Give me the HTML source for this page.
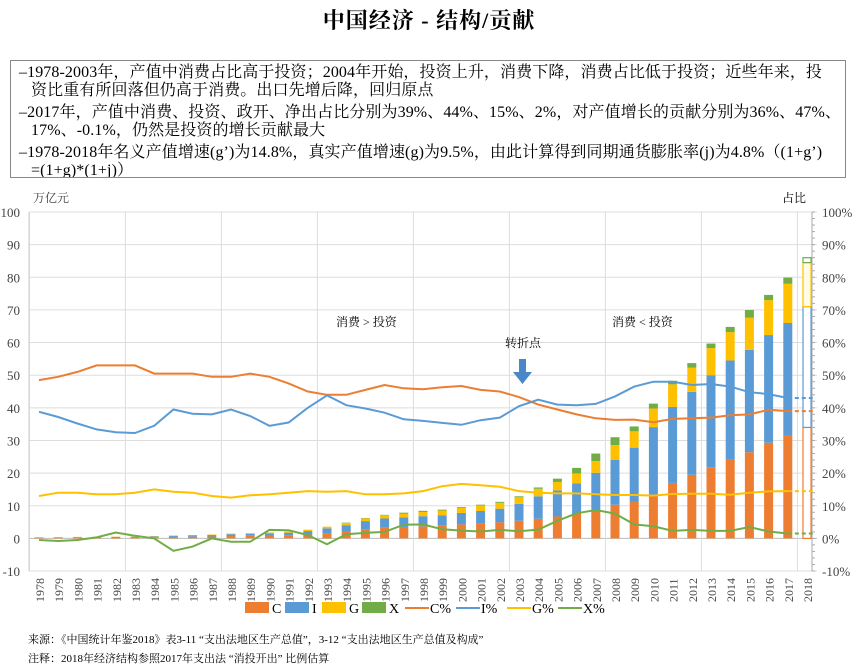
<!DOCTYPE html>
<html><head><meta charset="utf-8"><style>
body{margin:0;background:#fff;width:858px;height:670px;overflow:hidden;font-family:"Liberation Serif","Noto Serif CJK SC",serif;}
#t{position:absolute;top:4px;left:0;width:858px;text-align:center;font-size:22px;font-weight:bold;letter-spacing:1px}
#box{position:absolute;left:10px;top:60px;width:836px;height:118px;border:1px solid #888;box-sizing:border-box;padding:3px 6px 0 8px;font-size:16px;line-height:18px;letter-spacing:0.1px;white-space:nowrap;overflow:hidden}
#box p{margin:0 0 4px 0;padding-left:12px;text-indent:-12px}
svg{position:absolute;left:0;top:0}
</style></head><body>
<div id="t">中国经济 - 结构/贡献</div>
<div id="box">
<p>–1978-2003年，产值中消费占比高于投资；2004年开始，投资上升，消费下降，消费占比低于投资；近些年来，投<br>资比重有所回落但仍高于消费。出口先增后降，回归原点</p>
<p>–2017年，产值中消费、投资、政开、净出占比分别为39%、44%、15%、2%，对产值增长的贡献分别为36%、47%、<br>17%、-0.1%，仍然是投资的增长贡献最大</p>
<p>–1978-2018年名义产值增速(g’)为14.8%，真实产值增速(g)为9.5%，由此计算得到同期通货膨胀率(j)为4.8%（(1+g’)<br>=(1+g)*(1+j)）</p>
</div>
<svg id="s" width="858" height="670" xmlns="http://www.w3.org/2000/svg" font-family="Liberation Serif, Noto Serif CJK SC, serif"></svg>
<script>
var s=document.getElementById('s'),h='';
var X0=29.4,W=19.2;function cx(i){return X0+W*(i+0.5)}
function Y(v){return 538.4-v*3.264}
for(var v=-10;v<=100;v+=10){h+='<line x1="29" x2="817" y1="'+Y(v)+'" y2="'+Y(v)+'" stroke="'+(v==0?'#bbb':'#ddd')+'"/>';
h+='<text x="20" y="'+(Y(v)+5)+'" font-size="13" text-anchor="end" fill="#444">'+v+'</text>';
h+='<text x="822" y="'+(Y(v)+5)+'" font-size="13" fill="#444">'+v+'%</text>';}
for(var k=0;k<=8;k++){var x=X0+W*5*k;h+='<line x1="'+x+'" x2="'+x+'" y1="212" y2="571" stroke="#ddd"/>';}
h+='<line x1="29" x2="29" y1="212" y2="571" stroke="#ccc"/><line x1="812" x2="812" y1="212" y2="571" stroke="#aaa"/>';
for(var v=-10;v<=100;v+=2)h+='<line x1="812" x2="815" y1="'+Y(v)+'" y2="'+Y(v)+'" stroke="#aaa"/>';
for(var i=0;i<=40;i++){var x=cx(i);h+='<text transform="translate('+(x+5)+',602) rotate(-90)" font-size="12" fill="#444">'+(1978+i)+'</text>';}
var D=[[.18,.14,.05,0],[.21,.15,.06,0],[.24,.16,.07,0],[.26,.16,.07,0],[.29,.17,.08,0],[.32,.19,.09,0],[.37,.24,.11,0],[.46,.33,.13,-.05],[.51,.39,.14,-.03],[.58,.45,.15,0],[.72,.58,.18,-.02],[.81,.6,.21,-.02],[.88,.64,.25,.05],[1.0,.75,.3,.06],[1.2,1.05,.39,.03],[1.55,1.55,.5,-.07],[2.1,1.95,.68,.1],[2.8,2.5,.84,.12],[3.3,2.8,.97,.15],[3.5,2.95,1.1,.33],[3.7,3.1,1.3,.35],[3.9,3.2,1.45,.25],[4.3,3.5,1.56,.24],[4.6,3.8,1.7,.23],[4.9,4.2,1.8,.3],[5.4,5.2,2.0,.3],[6.0,6.9,2.3,.4],[6.7,8.0,2.6,1.0],[7.5,9.4,3.0,1.7],[9.0,11.1,3.6,2.3],[10.3,13.8,4.5,2.4],[11.3,16.5,5.0,1.5],[13.3,20.8,5.7,1.5],[17.0,23.3,6.9,1.1],[19.5,25.4,7.4,1.4],[21.8,28.2,8.3,1.4],[24.2,30.3,8.7,1.6],[26.4,31.4,9.8,2.4],[29.3,33.0,10.7,1.6],[31.4,34.6,12.0,1.9]];
var col=['#ED7D31','#5B9BD5','#FFC000','#70AD47'];
D.forEach(function(d,i){var b=0,x=cx(i)-4.5;d.forEach(function(v,j){if(v>=0){h+='<rect x="'+x+'" y="'+Y(b+v)+'" width="9" height="'+(v*3.264)+'" fill="'+col[j]+'"/>';b+=v;}else h+='<rect x="'+x+'" y="'+Y(0)+'" width="9" height="'+(-v*3.264)+'" fill="'+col[j]+'"/>';});});
var x=cx(40)-4;[[0,34,0],[34,71,1],[71,84.5,2],[84.5,86,3]].forEach(function(r){h+='<rect x="'+x+'" y="'+Y(r[1])+'" width="8" height="'+((r[1]-r[0])*3.264)+'" fill="'+(r[2]==2?'#fffbe6':'#fff')+'" stroke="'+col[r[2]]+'" stroke-width="1.2"/>';});
var L=[[48.5,49.5,51,53,53,53,50.5,50.5,50.5,49.5,49.5,50.5,49.5,47.5,45,44,44,45.5,47,46,45.7,46.3,46.7,45.5,45,43.3,41,39.5,38,36.8,36.3,36.4,35.6,36.6,36.8,37,37.7,38,39.4,39],
[38.8,37.2,35.2,33.4,32.5,32.3,34.5,39.5,38.2,38,39.5,37.5,34.5,35.5,40,43.8,40.8,39.8,38.5,36.5,36,35.4,34.8,36.2,37,40.5,42.5,41,40.8,41.2,43.5,46.5,48,48,47,47.3,46.5,44.8,44.2,43],
[13,14,14,13.5,13.5,14,15,14.3,14,13,12.5,13.2,13.5,14,14.5,14.3,14.5,13.5,13.5,13.8,14.5,16,16.7,16.3,15.8,14.5,14,13.8,13.8,13.5,13.3,13.3,13.1,13.6,13.7,13.7,13.4,14,14.4,14.5],
[-.5,-.8,-.5,.3,1.8,.8,0,-3.8,-2.5,0,-1,-1,2.6,2.5,1,-1.8,1.3,1.7,2,4.2,4.3,2.8,2.4,2.1,2.6,2.2,2.7,5.4,7.7,8.7,7.6,4.3,3.7,2.3,2.6,2.3,2.3,3.5,2.1,1.5]];
L.forEach(function(a,j){var p=a.map(function(v,i){return cx(i).toFixed(1)+','+Y(v).toFixed(1)}).join(' ');
h+='<polyline points="'+p+'" fill="none" stroke="'+col[j]+'" stroke-width="2"/>';
h+='<line x1="'+cx(39)+'" x2="'+(cx(40)+6)+'" y1="'+Y(a[39])+'" y2="'+Y(a[39])+'" stroke="'+col[j]+'" stroke-width="2" stroke-dasharray="4,3"/>';});
h+='<text x="33" y="202" font-size="12" fill="#444">万亿元</text><text x="782" y="202" font-size="12">占比</text>';
h+='<text x="336" y="326" font-size="12">消费 &gt; 投资</text><text x="612" y="326" font-size="12">消费 &lt; 投资</text><text x="505" y="347" font-size="12">转折点</text>';
h+='<rect x="519" y="359" width="7" height="14" fill="#4A86C8"/><polygon points="513,372 532,372 522.5,384" fill="#4A86C8"/>';
var lx=245;['C','I','G','X'].forEach(function(n,j){h+='<rect x="'+lx+'" y="602" width="24" height="11" fill="'+col[j]+'"/><text x="'+(lx+27)+'" y="613" font-size="14">'+n+'</text>';lx+=40+(n=='I'?-3:0);});
lx=405;['C%','I%','G%','X%'].forEach(function(n,j){h+='<line x1="'+lx+'" x2="'+(lx+24)+'" y1="608" y2="608" stroke="'+col[j]+'" stroke-width="2"/><text x="'+(lx+25)+'" y="613" font-size="14">'+n+'</text>';lx+=51;});
h+='<text x="28" y="643" font-size="11">来源：《中国统计年鉴2018》表3-11 “支出法地区生产总值”，3-12 “支出法地区生产总值及构成”</text>';
h+='<text x="28" y="662" font-size="11">注释：2018年经济结构参照2017年支出法 “消投开出” 比例估算</text>';
s.innerHTML=h;
</script>
</body></html>
